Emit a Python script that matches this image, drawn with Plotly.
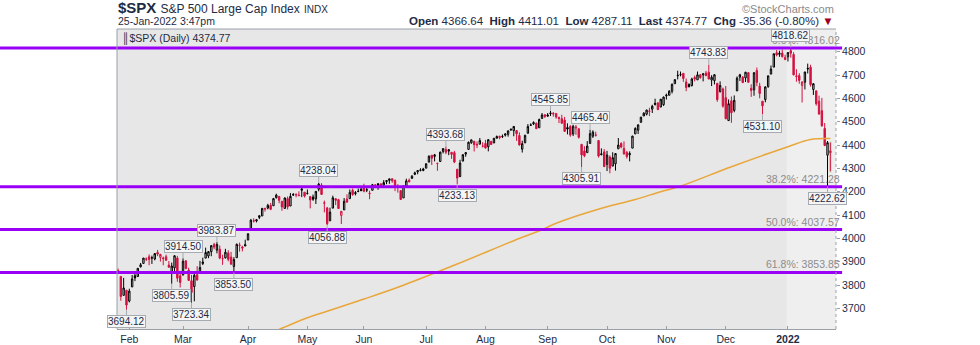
import plotly.graph_objects as go
import pandas as pd

# ---------------- data ----------------
holidays = ["2021-02-15", "2021-04-02", "2021-05-31", "2021-07-05", "2021-09-06",
            "2021-11-25", "2021-12-24", "2022-01-17"]
dates = [d.strftime("%Y-%m-%d") for d in pd.bdate_range("2021-01-26", "2022-01-25")
         if d.strftime("%Y-%m-%d") not in holidays]

prior_close = 3855.36

opens = [
    3862.96, 3836.83, 3755.75, 3778.05,
    3731.17, 3791.84, 3840.27, 3836.66, 3878.30, 3892.59, 3910.49, 3920.78, 3916.40, 3911.65, 3939.61, 3918.50, 3915.86, 3921.16, 3885.55, 3857.07, 3873.71, 3915.80, 3839.66,
    3842.51, 3903.64, 3863.99, 3818.53, 3793.58, 3844.39, 3851.93, 3891.99, 3915.54, 3924.52, 3942.96, 3973.59, 3949.57, 3953.50, 3913.14, 3916.48, 3937.60, 3919.93, 3879.34, 3917.12, 3969.31, 3963.34, 3967.25,
    3992.78, 4034.44, 4075.57, 4074.29, 4089.95, 4096.11, 4124.71, 4130.10, 4141.58, 4139.76, 4174.14, 4179.80, 4159.18, 4128.42, 4170.46, 4138.78, 4185.03, 4188.25, 4185.14, 4206.14, 4198.10,
    4191.98, 4179.04, 4177.06, 4169.14, 4210.34, 4228.29, 4150.34, 4130.55, 4074.99, 4129.58, 4169.92, 4165.94, 4098.45, 4121.97, 4168.61, 4170.16, 4205.94, 4191.59, 4201.94, 4210.77,
    4216.52, 4206.82, 4191.43, 4206.05, 4229.34, 4233.81, 4232.99, 4228.56, 4242.90, 4248.31, 4255.28, 4248.87, 4220.37, 4204.78, 4173.40, 4224.61, 4249.27, 4256.97, 4274.45, 4284.90, 4293.21, 4290.65,
    4300.73, 4326.60, 4356.46, 4351.01, 4321.07, 4329.38, 4372.41, 4381.07, 4380.11, 4369.02, 4367.43, 4296.40, 4265.11, 4331.13, 4361.27, 4381.20, 4409.58, 4416.38, 4402.95, 4403.59, 4395.12,
    4406.86, 4392.74, 4415.95, 4408.86, 4429.07, 4437.77, 4435.79, 4442.18, 4446.08, 4464.84, 4461.65, 4462.12, 4440.94, 4382.44, 4410.56, 4450.29, 4484.40, 4490.45, 4493.75, 4474.10, 4513.76, 4529.75,
    4528.80, 4534.48, 4532.42, 4535.38, 4518.09, 4513.02, 4506.92, 4474.81, 4479.33, 4447.49, 4477.09, 4469.74, 4402.95, 4374.45, 4367.43, 4406.75, 4438.04, 4442.12, 4419.54, 4362.41, 4370.67,
    4317.16, 4348.84, 4309.87, 4319.57, 4383.73, 4406.51, 4385.44, 4368.31, 4358.01, 4386.75, 4447.69, 4463.72, 4497.34, 4524.42, 4532.24, 4546.12, 4553.69, 4578.69, 4580.22, 4562.84, 4572.87,
    4610.62, 4613.34, 4630.65, 4662.93, 4699.26, 4701.48, 4707.25, 4670.26, 4659.39, 4655.24, 4689.30, 4679.42, 4701.50, 4700.72, 4708.44, 4712.00, 4678.48, 4675.78, 4664.63, 4628.75, 4640.25,
    4602.82, 4504.73, 4589.49, 4548.37, 4631.97, 4690.86, 4691.00, 4687.64, 4710.30, 4642.99, 4636.46, 4719.13, 4652.50, 4587.90, 4594.96, 4650.36, 4703.96, 4733.99, 4795.49, 4788.64, 4794.23, 4775.21,
    4778.14, 4804.51, 4787.99, 4693.39, 4697.66, 4655.34, 4669.14, 4728.59, 4733.56, 4637.99, 4632.24, 4588.03, 4547.35, 4471.38, 4356.32, 4366.64,
]
highs = [
    3870.90, 3836.83, 3830.50, 3778.05,
    3784.32, 3843.09, 3847.51, 3872.42, 3894.56, 3915.77, 3918.35, 3931.50, 3925.99, 3937.23, 3950.43, 3933.61, 3921.98, 3930.41, 3902.92, 3895.98, 3928.65, 3925.02, 3861.08,
    3914.50, 3906.41, 3874.47, 3843.67, 3851.69, 3881.06, 3903.76, 3917.35, 3960.27, 3944.99, 3970.08, 3981.04, 3983.87, 3969.62, 3930.12, 3955.31, 3949.13, 3942.08, 3919.54, 3978.19, 3981.83, 3968.01, 3994.41,
    4020.63, 4083.42, 4086.23, 4083.13, 4098.19, 4129.48, 4131.76, 4148.00, 4151.69, 4173.49, 4191.31, 4180.81, 4159.18, 4175.02, 4179.57, 4194.17, 4194.19, 4193.35, 4201.53, 4218.78, 4198.10,
    4209.39, 4179.04, 4187.72, 4202.70, 4238.04, 4236.39, 4162.04, 4134.73, 4131.58, 4183.13, 4171.92, 4169.15, 4116.93, 4172.80, 4188.72, 4209.52, 4213.42, 4202.61, 4213.38, 4218.36,
    4234.12, 4217.37, 4204.39, 4233.45, 4232.34, 4236.74, 4237.09, 4249.74, 4248.38, 4255.59, 4257.16, 4251.89, 4232.29, 4204.78, 4226.24, 4255.84, 4256.60, 4271.28, 4286.12, 4292.14, 4300.52, 4302.43,
    4320.66, 4355.43, 4356.46, 4361.88, 4324.81, 4371.60, 4386.68, 4393.68, 4382.25, 4369.02, 4375.09, 4296.40, 4336.84, 4359.70, 4369.87, 4415.18, 4422.73, 4416.38, 4415.47, 4429.97, 4412.25,
    4422.18, 4423.79, 4416.17, 4429.76, 4440.82, 4439.39, 4445.21, 4449.44, 4461.77, 4468.37, 4480.26, 4462.12, 4454.32, 4418.61, 4444.35, 4489.88, 4492.81, 4501.71, 4495.90, 4513.33, 4537.36, 4531.39,
    4537.11, 4545.85, 4541.45, 4535.38, 4521.79, 4529.90, 4520.47, 4492.99, 4485.68, 4486.87, 4485.87, 4471.52, 4402.95, 4394.87, 4416.75, 4465.40, 4463.12, 4457.30, 4419.54, 4385.57, 4382.55,
    4375.19, 4355.51, 4369.23, 4365.57, 4429.97, 4412.02, 4415.88, 4374.89, 4372.87, 4439.73, 4475.82, 4488.75, 4520.40, 4540.87, 4551.44, 4559.67, 4572.62, 4598.53, 4584.57, 4597.55, 4608.08,
    4620.34, 4635.15, 4663.46, 4683.00, 4718.50, 4714.92, 4708.53, 4684.85, 4664.55, 4688.47, 4697.42, 4714.95, 4701.50, 4708.80, 4717.75, 4743.83, 4699.39, 4702.87, 4664.63, 4672.95, 4646.02,
    4652.94, 4595.46, 4608.03, 4612.60, 4694.04, 4705.06, 4695.26, 4713.57, 4710.30, 4660.47, 4712.60, 4731.99, 4666.70, 4587.90, 4651.14, 4697.67, 4740.74, 4791.49, 4807.02, 4804.06, 4808.93, 4786.83,
    4796.64, 4818.62, 4797.70, 4725.01, 4707.95, 4673.02, 4714.13, 4748.83, 4744.13, 4665.13, 4632.24, 4611.55, 4602.11, 4494.52, 4417.35, 4411.01,
]
lows = [
    3847.78, 3732.48, 3755.75, 3694.12,
    3725.62, 3791.84, 3816.68, 3836.66, 3874.93, 3892.59, 3902.64, 3884.94, 3890.39, 3905.78, 3923.85, 3900.43, 3885.03, 3903.07, 3874.71, 3805.59, 3859.60, 3814.04, 3789.54,
    3842.51, 3868.57, 3818.86, 3723.34, 3730.19, 3819.25, 3851.93, 3885.73, 3915.54, 3915.21, 3923.54, 3953.44, 3935.74, 3910.86, 3886.75, 3914.16, 3901.57, 3889.07, 3853.50, 3917.12, 3943.25, 3944.35, 3966.98,
    3992.78, 4034.44, 4068.14, 4068.31, 4082.54, 4095.51, 4114.82, 4124.43, 4120.87, 4139.76, 4170.75, 4150.47, 4118.38, 4126.35, 4123.69, 4138.78, 4182.36, 4176.22, 4181.78, 4176.81, 4174.85,
    4188.03, 4128.59, 4160.94, 4147.33, 4201.64, 4188.13, 4111.53, 4056.88, 4074.99, 4129.58, 4142.69, 4125.99, 4061.41, 4121.97, 4151.72, 4170.16, 4182.52, 4184.11, 4197.78, 4203.57,
    4197.59, 4198.27, 4167.93, 4206.05, 4215.66, 4208.41, 4218.74, 4220.34, 4232.25, 4234.07, 4238.35, 4202.45, 4196.05, 4164.40, 4173.40, 4217.27, 4241.43, 4256.97, 4271.16, 4274.67, 4287.04, 4287.96,
    4300.73, 4326.60, 4314.37, 4329.79, 4289.67, 4329.38, 4364.03, 4360.69, 4356.74, 4340.70, 4322.53, 4233.13, 4262.05, 4331.13, 4350.06, 4381.20, 4405.45, 4372.51, 4387.01, 4403.59, 4389.65,
    4384.81, 4373.00, 4400.23, 4408.86, 4429.07, 4424.74, 4430.03, 4436.42, 4435.96, 4460.82, 4437.66, 4417.83, 4397.59, 4367.73, 4406.80, 4450.29, 4482.28, 4485.66, 4468.99, 4474.10, 4513.76, 4515.80,
    4522.02, 4524.66, 4521.65, 4513.00, 4493.95, 4492.07, 4457.66, 4445.70, 4435.46, 4438.37, 4443.80, 4427.76, 4305.91, 4347.96, 4367.43, 4406.75, 4430.27, 4436.19, 4346.33, 4355.08, 4306.24,
    4288.52, 4278.94, 4309.87, 4290.49, 4383.73, 4386.22, 4360.59, 4342.09, 4329.92, 4386.75, 4447.69, 4447.47, 4496.41, 4524.40, 4526.89, 4524.00, 4537.36, 4569.17, 4551.66, 4562.84, 4567.59,
    4595.06, 4613.34, 4621.19, 4662.59, 4681.32, 4694.39, 4670.87, 4630.86, 4648.31, 4650.77, 4672.86, 4679.42, 4684.41, 4672.78, 4694.22, 4682.17, 4652.66, 4659.89, 4585.43, 4625.26, 4560.00,
    4510.27, 4504.73, 4495.12, 4540.51, 4631.97, 4674.52, 4665.98, 4670.24, 4667.60, 4606.52, 4611.22, 4651.89, 4600.22, 4531.10, 4583.16, 4645.53, 4703.96, 4733.99, 4780.04, 4778.08, 4775.33, 4765.75,
    4758.17, 4774.27, 4699.44, 4671.26, 4662.74, 4582.24, 4638.27, 4706.71, 4650.29, 4614.75, 4568.70, 4530.20, 4477.95, 4395.34, 4222.62, 4287.11,
]
closes = [
    3849.62, 3750.77, 3787.38, 3714.24,
    3773.86, 3826.31, 3830.17, 3871.74, 3886.83, 3915.59, 3911.23, 3909.88, 3916.38, 3934.83, 3932.59, 3931.33, 3913.97, 3906.71, 3876.50, 3881.37, 3925.43, 3829.34, 3811.15,
    3901.82, 3870.29, 3819.72, 3768.47, 3841.94, 3821.35, 3875.44, 3898.81, 3939.34, 3943.34, 3968.94, 3962.71, 3974.12, 3915.46, 3913.10, 3940.59, 3910.52, 3889.14, 3909.52, 3974.54, 3971.09, 3958.55, 3972.89,
    4019.87, 4077.91, 4073.94, 4079.95, 4097.17, 4128.80, 4127.99, 4141.59, 4124.66, 4170.42, 4185.47, 4163.26, 4134.94, 4173.42, 4134.98, 4180.17, 4187.62, 4186.72, 4183.18, 4211.47, 4181.17,
    4192.66, 4164.66, 4167.59, 4201.62, 4232.60, 4188.43, 4152.10, 4063.04, 4112.50, 4173.85, 4163.29, 4127.83, 4115.68, 4159.12, 4155.86, 4197.05, 4188.13, 4195.99, 4200.88, 4204.11,
    4202.04, 4208.12, 4192.85, 4229.89, 4226.52, 4227.26, 4219.55, 4239.18, 4247.44, 4255.15, 4246.59, 4223.70, 4221.86, 4166.45, 4224.79, 4246.44, 4241.84, 4266.49, 4280.70, 4290.61, 4291.80, 4297.50,
    4319.94, 4352.34, 4343.54, 4358.13, 4320.82, 4369.55, 4384.63, 4369.21, 4374.30, 4360.03, 4327.16, 4258.49, 4323.06, 4358.69, 4367.48, 4411.79, 4422.30, 4401.46, 4400.64, 4419.15, 4395.26,
    4387.16, 4423.15, 4402.66, 4429.10, 4436.52, 4432.35, 4436.75, 4447.70, 4460.83, 4468.00, 4479.71, 4448.08, 4400.27, 4405.80, 4441.67, 4479.53, 4486.23, 4496.19, 4470.00, 4509.37, 4528.79, 4522.68,
    4524.09, 4536.95, 4535.43, 4520.03, 4514.07, 4493.28, 4458.58, 4468.73, 4443.05, 4480.70, 4473.75, 4432.99, 4357.73, 4354.19, 4395.64, 4448.98, 4455.48, 4443.11, 4352.63, 4359.46, 4307.54,
    4357.04, 4300.46, 4345.72, 4363.55, 4399.76, 4391.34, 4361.19, 4350.65, 4363.80, 4438.26, 4471.37, 4486.46, 4519.63, 4536.19, 4549.78, 4544.90, 4566.48, 4574.79, 4551.68, 4596.42, 4605.38,
    4613.67, 4630.65, 4660.57, 4680.06, 4697.53, 4701.70, 4685.25, 4646.71, 4649.27, 4682.85, 4682.80, 4700.90, 4688.67, 4704.54, 4697.96, 4682.94, 4690.70, 4701.46, 4594.62, 4655.27, 4567.00,
    4513.04, 4577.10, 4538.43, 4591.67, 4686.75, 4701.21, 4667.45, 4712.02, 4668.97, 4634.09, 4709.85, 4668.67, 4620.64, 4568.02, 4649.23, 4696.56, 4725.79, 4791.19, 4786.35, 4793.06, 4778.73, 4766.18,
    4796.56, 4793.54, 4700.58, 4696.05, 4677.03, 4670.29, 4713.07, 4726.35, 4659.03, 4662.85, 4577.11, 4532.76, 4482.73, 4397.94, 4410.13, 4374.77,
]

# 200-day moving average at sample dates
ma_dates = ["2021-04-01", "2021-04-19", "2021-05-03", "2021-05-12", "2021-06-01", "2021-06-18",
            "2021-07-19", "2021-08-16", "2021-08-30", "2021-09-07", "2021-09-27", "2021-10-15",
            "2021-10-28", "2021-11-08", "2021-12-03", "2022-01-03", "2022-01-13", "2022-01-25"]
ma_values = [3556, 3610, 3660, 3688, 3740, 3795,
             3890, 3990, 4037, 4065, 4122, 4167,
             4200, 4224, 4307, 4393, 4424, 4428]

# Fibonacci retracement levels
fib_names = ["0.0%", "38.2%", "50.0%", "61.8%"]
fib_levels = [4816.02, 4221.28, 4037.57, 3853.85]

# annotated highs / lows
label_dates = ["2021-01-29", "2021-02-23", "2021-03-01", "2021-03-04", "2021-03-17", "2021-03-25",
               "2021-05-07", "2021-05-12", "2021-07-13", "2021-07-19", "2021-09-02", "2021-09-23",
               "2021-09-20", "2021-11-22", "2021-12-20", "2022-01-04", "2022-01-24"]
label_values = [3694.12, 3805.59, 3914.50, 3723.34, 3983.87, 3853.50,
                4238.04, 4056.88, 4393.68, 4233.13, 4545.85, 4465.40,
                4305.91, 4743.83, 4531.10, 4818.62, 4222.62]
label_side = ["low", "low", "high", "low", "high", "low",
              "high", "low", "high", "low", "high", "high",
              "low", "high", "low", "high", "low"]

y_ticks = [3700, 3800, 3900, 4000, 4100, 4200, 4300, 4400, 4500, 4600, 4700, 4800]
month_names = ["Jan", "Feb", "Mar", "Apr", "May", "Jun", "Jul", "Aug", "Sep", "Oct", "Nov", "Dec"]

# ---------------- build ----------------
n = len(dates)
assert n == len(closes) == len(opens) == len(highs) == len(lows), (n, len(closes), len(opens), len(highs), len(lows))
pos = {d: i for i, d in enumerate(dates)}
prev = [prior_close] + closes[:-1]

NAVY = "#1e2b45"
RED = "#d3113f"
FONT = "Liberation Sans, Arial, sans-serif"

fig = go.Figure()

ma_x = [pos[d] for d in ma_dates]
fig.add_trace(go.Scatter(x=ma_x, y=ma_values, mode="lines", line_shape="spline",
                         line=dict(color="#e9a63a", width=1.5), hoverinfo="skip", showlegend=False))

for color, sel in [("#000000", lambda i: closes[i] >= prev[i]),
                   (RED, lambda i: closes[i] < prev[i])]:
    ids = [i for i in range(n) if sel(i)]
    fig.add_trace(go.Candlestick(
        x=ids,
        open=[opens[i] for i in ids], high=[highs[i] for i in ids],
        low=[lows[i] for i in ids], close=[closes[i] for i in ids],
        increasing=dict(line=dict(color=color, width=1), fillcolor="rgba(0,0,0,0)"),
        decreasing=dict(line=dict(color=color, width=1), fillcolor=color),
        whiskerwidth=0, showlegend=False, hoverinfo="skip"))

# month ticks
tick_vals, tick_text = [], []
for i, d in enumerate(dates):
    if i > 0 and d[5:7] != dates[i - 1][5:7]:
        m = int(d[5:7])
        tick_vals.append(i)
        tick_text.append("<b>" + d[:4] + "</b>" if m == 1 else month_names[m - 1])

shapes = []
# 2022 lighter background
first_2022 = next(i for i, d in enumerate(dates) if d.startswith("2022"))
shapes.append(dict(type="rect", xref="x", yref="paper", x0=first_2022 - 0.5, x1=n + 5, y0=0, y1=1,
                   fillcolor="#efefef", line=dict(width=0), layer="below"))
# last bar highlight
shapes.append(dict(type="rect", xref="x", yref="y", x0=n - 1 - 0.45, x1=n - 1 + 0.55,
                   y0=lows[-1] - 6, y1=highs[-1] + 6, fillcolor="#c9efb9",
                   line=dict(width=0), layer="below"))
# fib lines
for lv in fib_levels:
    shapes.append(dict(type="line", xref="paper", yref="y", x0=-0.163, x1=1.0085, y0=lv, y1=lv,
                       line=dict(color="#9a00f5", width=3), layer="above"))
# plot frame
shapes.append(dict(type="line", xref="paper", yref="paper", x0=0, x1=0, y0=0, y1=1,
                   line=dict(color="#9aa0a8", width=1)))
shapes.append(dict(type="line", xref="paper", yref="paper", x0=0, x1=1, y0=1, y1=1,
                   line=dict(color="#9aa0a8", width=1)))
shapes.append(dict(type="line", xref="paper", yref="paper", x0=1, x1=1, y0=0, y1=1,
                   line=dict(color="#9aa0a8", width=1, dash="dot")))

annotations = []
for name, lv in zip(fib_names, fib_levels):
    annotations.append(dict(xref="paper", yref="y", x=1.0085, y=lv, xanchor="right", yanchor="bottom",
                            yshift=0, text=f"{name}: {lv:.2f}", showarrow=False,
                            font=dict(family=FONT, size=10.5, color="#8c8c8c")))
for d, v, side in zip(label_dates, label_values, label_side):
    annotations.append(dict(x=pos[d], y=v, xref="x", yref="y", text=f"{v:.2f}",
                            showarrow=True, arrowhead=0, arrowwidth=1, arrowcolor="#a6abb2",
                            ax=0, ay=-12 if side == "high" else 12,
                            bgcolor="#f5f5f5", bordercolor="#a6abb2", borderwidth=1, borderpad=0,
                            font=dict(family=FONT, size=10, color=NAVY)))

# legend in plot
annotations.append(dict(xref="paper", yref="paper", x=0.004, y=1, xanchor="left", yanchor="top",
                        yshift=-1, text=f"\u2551$SPX (Daily) {closes[-1]:.2f}", showarrow=False,
                        font=dict(family=FONT, size=10.5, color=NAVY)))
# header
annotations.append(dict(xref="paper", yref="paper", x=-0.002, y=1, xanchor="left", yanchor="bottom",
                        yshift=11,
                        text="<b>$SPX</b> <span style='font-size:12px'>S&P 500 Large Cap Index</span>"
                             " <span style='font-size:10px'>INDX</span>",
                        showarrow=False, font=dict(family=FONT, size=15, color=NAVY)))
annotations.append(dict(xref="paper", yref="paper", x=-0.002, y=1, xanchor="left", yanchor="bottom",
                        yshift=0, text="25-Jan-2022 3:47pm", showarrow=False,
                        font=dict(family=FONT, size=10.5, color=NAVY)))
chg = closes[-1] - closes[-2]
pct = chg / closes[-2] * 100
hdr = (f"<b>Open</b> {opens[-1]:.2f}  <b>High</b> {highs[-1]:.2f}  <b>Low</b> {lows[-1]:.2f}  "
       f"<b>Last</b> {closes[-1]:.2f}  <b>Chg</b> {chg:.2f} ({pct:.2f}%) "
       f"<span style='color:#a0001e'>\u25bc</span>")
annotations.append(dict(xref="paper", yref="paper", x=1, y=1, xanchor="right", yanchor="bottom",
                        yshift=0, text=hdr, showarrow=False,
                        font=dict(family=FONT, size=11.5, color=NAVY)))
annotations.append(dict(xref="paper", yref="paper", x=1, y=1, xanchor="right", yanchor="bottom",
                        yshift=12, text="\u00a9StockCharts.com", showarrow=False,
                        font=dict(family=FONT, size=11, color="#8a8a8a")))

fig.update_layout(
    width=980, height=345,
    margin=dict(l=117, r=144, t=29, b=16),
    paper_bgcolor="white", plot_bgcolor="#e7e7e7",
    shapes=shapes, annotations=annotations,
    showlegend=False,
    xaxis=dict(range=[-0.354, 254.0], tickvals=tick_vals, ticktext=tick_text,
               showgrid=False, zeroline=False, showline=True, linecolor="#9aa0a8",
               ticks="inside", ticklen=3, tickcolor="#9aa0a8",
               tickfont=dict(family=FONT, size=10.5, color=NAVY), automargin=False,
               rangeslider=dict(visible=False), fixedrange=True),
    yaxis=dict(range=[3611.6, 4897.3], side="right", tickvals=y_ticks,
               showgrid=False, zeroline=False, showline=False, automargin=False,
               ticks="outside", ticklen=3, tickcolor="#9aa0a8",
               tickfont=dict(family=FONT, size=10.5, color=NAVY), fixedrange=True),
)

fig.write_html("out.html")
